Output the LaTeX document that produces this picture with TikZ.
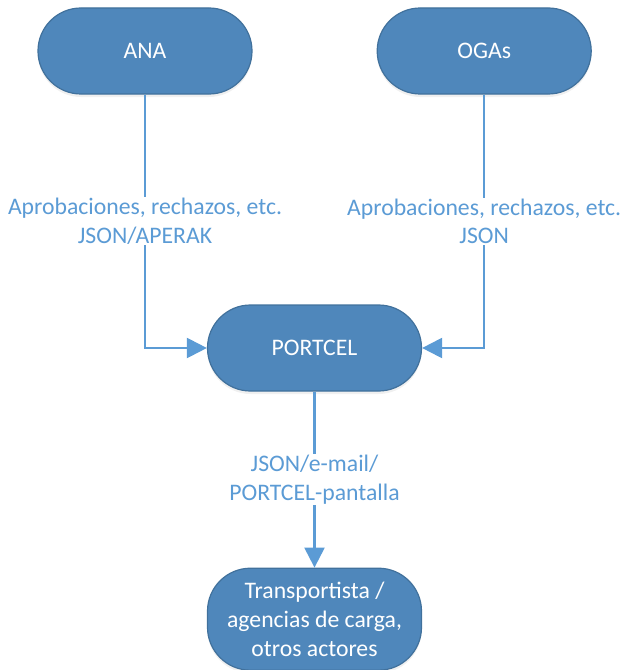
\documentclass[tikz,border=0pt]{standalone}
\usepackage{fontspec}
\setmainfont{Carlito}
\usepackage{xcolor}
\usepackage{tikz}
\usetikzlibrary{positioning, arrows.meta, shadows}
\definecolor{boxfill}{RGB}{79,135,187}
\definecolor{boxline}{RGB}{65,113,156}
\definecolor{linkblue}{RGB}{91,155,213}

\begin{document}
\begin{tikzpicture}[x=1bp, y=1bp,
    every node/.style = {font=\fontsize{23.8}{29}\selectfont, align=center},
    actor/.style = {shape=rectangle, rounded corners=43bp,
      draw=boxline, line width=1.2bp, fill=boxfill, text=white,
      minimum width=214bp, minimum height=86bp,
      drop shadow={opacity=0.12, shadow xshift=0bp, shadow yshift=-3bp}},
    link/.style = {draw=linkblue, line width=2.2bp,
      -{Triangle[length=20bp, width=20bp]}},
    msg/.style = {fill=white, text=linkblue, inner sep=1bp}]
    \useasboundingbox (0,0) rectangle (628,-670);
    \node[actor] (ana) at (145,-51) {ANA};
    \node[actor, right=124bp of ana] (ogas) {OGAs};
    \node[actor] (portcel) at (314.5,-348) {PORTCEL};
    \node[actor, below=176bp of portcel, minimum height=102bp] (actores)
      {Transportista /\\ agencias de carga,\\ otros actores};
    \draw[link] (ana.south) |- node[msg, pos=0.25]
      {Aprobaciones, rechazos, etc.\\ JSON/APERAK} (portcel.west);
    \draw[link] (ogas.south) |- node[msg, pos=0.25]
      {Aprobaciones, rechazos, etc.\\ JSON} (portcel.east);
    \draw[link] (portcel.south) -- node[msg]
      {JSON/e-mail/\\ PORTCEL-pantalla} (actores.north);
\end{tikzpicture}
\end{document}
